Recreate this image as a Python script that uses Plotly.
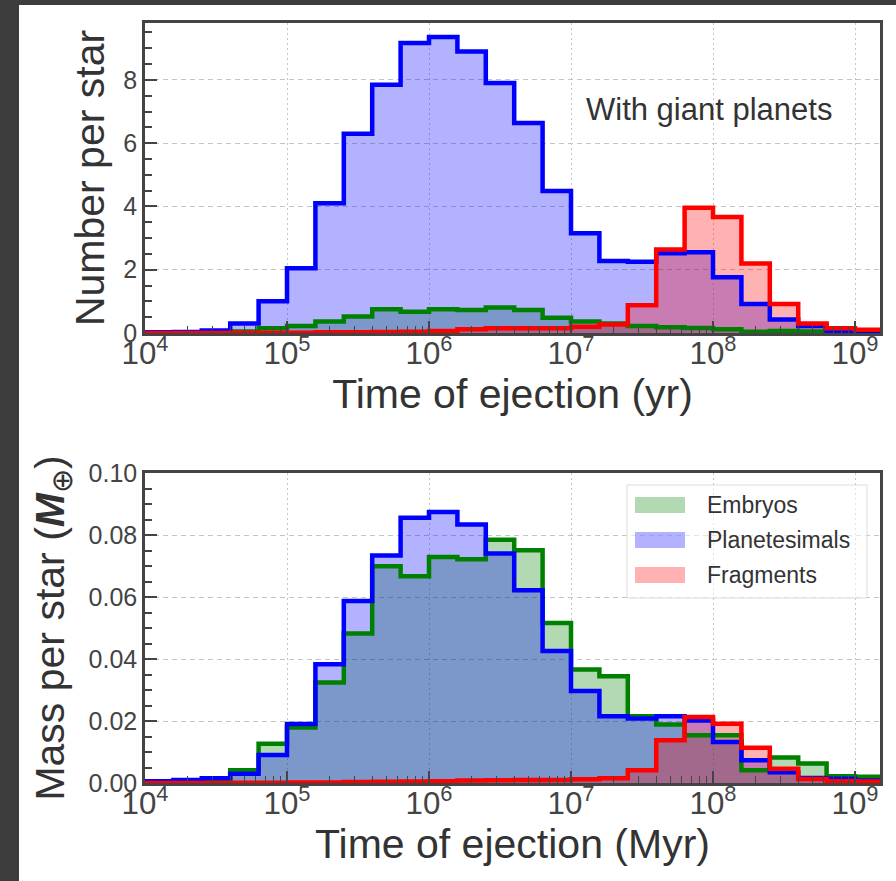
import plotly.graph_objects as go

# Bin edges (log10 of time) for the histograms
log_edges = [4.0, 4.2, 4.4, 4.6, 4.8, 5.0, 5.2, 5.4, 5.6, 5.8, 6.0, 6.2, 6.4, 6.6,
             6.8, 7.0, 7.2, 7.4, 7.6, 7.8, 8.0, 8.2, 8.4, 8.6, 8.8, 9.0, 9.2]

# Top panel: number per star
embryos_num = [0.01, 0.02, 0.04, 0.05, 0.15, 0.22, 0.36, 0.52, 0.75, 0.67, 0.75, 0.73, 0.81,
               0.73, 0.48, 0.36, 0.30, 0.22, 0.18, 0.16, 0.12, 0.04, 0.06, 0.05, 0.03, 0.03]
planetesimals_num = [0.02, 0.03, 0.08, 0.30, 1.00, 2.05, 4.10, 6.30, 7.85, 9.17, 9.36, 8.90, 7.90,
                     6.64, 4.49, 3.15, 2.28, 2.25, 2.52, 2.55, 1.76, 0.92, 0.43, 0.22, 0.05, 0.02]
fragments_num = [0.0, 0.0, 0.0, 0.01, 0.01, 0.01, 0.02, 0.02, 0.03, 0.04, 0.06, 0.12, 0.15,
                 0.15, 0.15, 0.20, 0.27, 0.88, 2.64, 3.96, 3.67, 2.20, 0.92, 0.30, 0.15, 0.10]

# Bottom panel: mass per star (Earth masses)
embryos_mass = [0.0003, 0.0006, 0.001, 0.0041, 0.0127, 0.0179, 0.0324, 0.0482, 0.0699, 0.0667,
                0.0729, 0.0722, 0.0785, 0.0751, 0.0516, 0.0366, 0.0344, 0.0215, 0.0189, 0.0154,
                0.0154, 0.0041, 0.0082, 0.0063, 0.0022, 0.002]
planetesimals_mass = [0.0006, 0.001, 0.0015, 0.003, 0.009, 0.019, 0.0383, 0.0587, 0.0734, 0.0856,
                      0.0874, 0.0834, 0.074, 0.0622, 0.0426, 0.0297, 0.0215, 0.0208, 0.0215, 0.0202,
                      0.0132, 0.0073, 0.0035, 0.0016, 0.0014, 0.0008]
fragments_mass = [0.0, 0.0, 0.0, 0.0001, 0.0001, 0.0002, 0.0002, 0.0003, 0.0004, 0.0005,
                  0.0006, 0.0008, 0.0009, 0.001, 0.001, 0.0012, 0.0015, 0.0041, 0.0138, 0.0213,
                  0.0191, 0.0114, 0.0046, 0.0013, 0.0006, 0.0005]

series_names = ["Embryos", "Planetesimals", "Fragments"]
line_colors = ["#008000", "#0000ff", "#ff0000"]
fill_colors = ["rgba(0,128,0,0.3)", "rgba(0,0,255,0.3)", "rgba(255,0,0,0.3)"]

edges = [10 ** e for e in log_edges]

FONT = "Liberation Sans"
W, H = 896, 881
ML, MR, MT, MB = 145, 16, 23, 98
PW = W - ML - MR
PH = H - MT - MB


def px_x(px):
    return (px - ML) / PW


def px_y(py):
    return (H - MB - py) / PH


fig = go.Figure()

panels = [
    ([embryos_num, planetesimals_num, fragments_num], "x", "y"),
    ([embryos_mass, planetesimals_mass, fragments_mass], "x2", "y2"),
]
for values, xa, ya in panels:
    # filled areas first
    for name, vals, fc in zip(series_names, values, fill_colors):
        fig.add_trace(go.Scatter(
            x=edges, y=list(vals) + [vals[-1]],
            mode="none", line=dict(shape="hv"),
            fill="tozeroy", fillcolor=fc, name=name, showlegend=False,
            xaxis=xa, yaxis=ya, hoverinfo="skip",
        ))
    # step outlines on top
    for name, vals, lc in zip(series_names, values, line_colors):
        fig.add_trace(go.Scatter(
            x=edges, y=list(vals) + [vals[-1]],
            mode="lines", line=dict(color=lc, width=4.5, shape="hv"),
            name=name, showlegend=False,
            xaxis=xa, yaxis=ya, hoverinfo="skip",
        ))

axis_common = dict(
    showline=True, linecolor="#444", linewidth=2.5, mirror=True,
    ticks="inside", tickcolor="#444", tickwidth=1.5, ticklen=12,
    tickfont=dict(family=FONT, size=25, color="#444"),
    gridcolor="#c4c4c4", gridwidth=1, zeroline=False, layer="above traces",
)

xcommon = dict(axis_common, type="log", range=[4, 9.176], dtick=1, tick0=0,
               exponentformat="power", griddash="2px,3px",
               minor=dict(ticks="inside", ticklen=7, tickcolor="#444", tickwidth=1.2,
                          dtick="D1", showgrid=False),
               ticklabelstandoff=-8)
ycommon = dict(axis_common, griddash="5px,4px", ticklabelstandoff=0)

title_font = dict(family=FONT, size=41, color="#333")

fig.update_layout(
    width=W, height=H,
    margin=dict(l=ML, r=MR, t=MT, b=MB, autoexpand=False),
    paper_bgcolor="white", plot_bgcolor="white",
    showlegend=False,
    xaxis=dict(xcommon, anchor="y", domain=[0, 1],
               title=dict(text="Time of ejection (yr)", font=title_font, standoff=8)),
    yaxis=dict(ycommon, anchor="x", domain=[px_y(333), 1], range=[0, 9.8], dtick=2,
               minor=dict(ticks="inside", ticklen=7, tickcolor="#444", dtick=0.5, showgrid=False),
               title=dict(text="Number per star", font=title_font, standoff=6)),
    xaxis2=dict(xcommon, anchor="y2", domain=[0, 1],
                title=dict(text="Time of ejection (Myr)", font=title_font, standoff=8)),
    yaxis2=dict(ycommon, anchor="x2", domain=[0, px_y(473)], range=[0, 0.1], dtick=0.02,
                tickformat=".2f",
                minor=dict(ticks="inside", ticklen=7, tickcolor="#444", dtick=0.005, showgrid=False),
                title=dict(text="Mass per star (<b><i>M</i></b><sub>⊕</sub>)", font=title_font,
                           standoff=12)),
)

shapes = [
    # dark frame strips (left and top)
    dict(type="rect", xref="paper", yref="paper", x0=px_x(-5), x1=px_x(19),
         y0=px_y(H + 5), y1=px_y(-5), fillcolor="#3d3d3d", line=dict(width=0), layer="above"),
    dict(type="rect", xref="paper", yref="paper", x0=px_x(-5), x1=px_x(W + 5),
         y0=px_y(5), y1=px_y(-5), fillcolor="#3d3d3d", line=dict(width=0), layer="above"),
    # legend frame
    dict(type="rect", xref="paper", yref="paper", x0=px_x(627), x1=px_x(867),
         y0=px_y(598), y1=px_y(485), fillcolor="rgba(255,255,255,0.55)",
         line=dict(color="#dddddd", width=1)),
]
annotations = [
    dict(text="With giant planets", xref="paper", yref="paper", x=px_x(709), y=px_y(109),
         showarrow=False, xanchor="center", yanchor="middle",
         font=dict(family=FONT, size=31, color="#333")),
]
legend_rows = [505, 540, 575]
for name, fc, yc in zip(series_names, fill_colors, legend_rows):
    shapes.append(dict(type="rect", xref="paper", yref="paper", x0=px_x(635), x1=px_x(685),
                       y0=px_y(yc + 8), y1=px_y(yc - 8), fillcolor=fc, line=dict(width=0)))
    annotations.append(dict(text=name, xref="paper", yref="paper", x=px_x(705), y=px_y(yc),
                            showarrow=False, xanchor="left", yanchor="middle",
                            font=dict(family=FONT, size=23, color="#333")))

fig.update_layout(shapes=shapes, annotations=annotations)

fig.write_html("out.html")
